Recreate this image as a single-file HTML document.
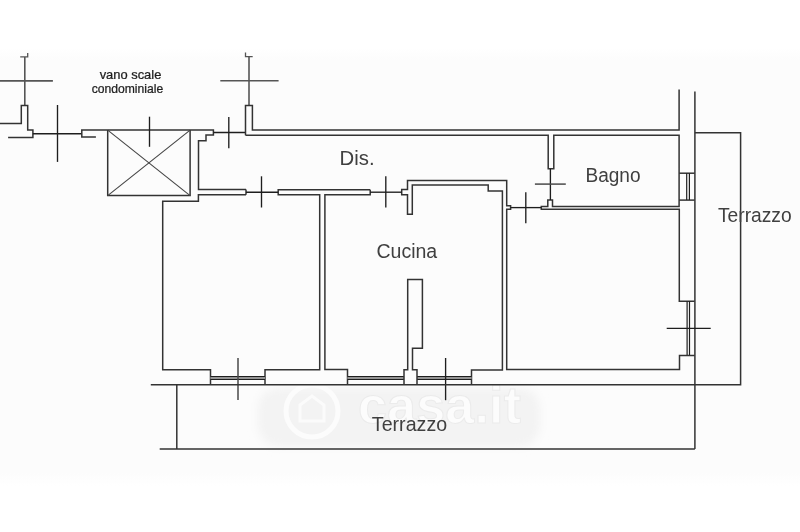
<!DOCTYPE html><html><head><meta charset="utf-8"><style>html,body{margin:0;padding:0;background:#fff;width:800px;height:532px;overflow:hidden}svg{display:block;filter:grayscale(1)}text{font-family:"Liberation Sans",sans-serif;fill:#404040}</style></head><body>
<svg width="800" height="532" viewBox="0 0 800 532">
<rect width="800" height="532" fill="#fff"/>
<defs><linearGradient id="bg" x1="0" y1="0" x2="0" y2="1"><stop offset="0" stop-color="#fff"/><stop offset="0.03" stop-color="#fcfcfc"/><stop offset="0.97" stop-color="#fcfcfc"/><stop offset="1" stop-color="#fff"/></linearGradient></defs>
<rect x="0" y="48" width="800" height="438" fill="url(#bg)"/>
<defs><filter id="bl" x="-20%" y="-40%" width="140%" height="180%"><feGaussianBlur stdDeviation="5"/></filter></defs>
<rect x="258" y="388" width="282" height="58" rx="20" fill="#f3f3f3" filter="url(#bl)"/>
<circle cx="312" cy="411" r="26" fill="none" stroke="#fcfcfc" stroke-width="5"/>
<path d="M300,405 L312,396 L324,405 L324,421 L300,421 Z" fill="none" stroke="#fbfbfb" stroke-width="3"/>
<text x="358" y="422.5" font-size="52" font-weight="bold" textLength="163" lengthAdjust="spacing" style="fill:#fcfcfc;stroke:#ebebeb;stroke-width:1">casa.it</text>
<g fill="none" stroke-linecap="butt" stroke-linejoin="miter">
<path d="M24.8,57 L24.8,105.4" stroke="#555" stroke-width="1.6"/>
<path d="M20.2,56.8 L27.7,56.8 L27.7,53.1" stroke="#555" stroke-width="1.3"/>
<path d="M0,80.9 L52.9,80.9" stroke="#555" stroke-width="1.6"/>
<path d="M0,123.5 L21.3,123.5 L21.3,105.4 L27.7,105.4 L27.7,130 L32.9,130 L32.9,137.6 L8.1,137.6" stroke="#333" stroke-width="1.5"/>
<path d="M32.9,133.7 L81.8,133.7" stroke="#1e1e1e" stroke-width="1.35"/>
<path d="M57.5,105 L57.5,161.9" stroke="#1e1e1e" stroke-width="1.35"/>
<path d="M95.9,137.1 L81.8,137.1 L81.8,130.1 L213.4,130.1 L213.4,135.1 L206,135.1 L206,140.7 L198.5,140.7 L198.5,189.6 L246,189.6" stroke="#333" stroke-width="1.5"/>
<path d="M246,194.7 L198.4,194.7 L198.4,201.2 L162.7,201.2 L162.7,369.7 L210.5,369.7 L210.5,384.5" stroke="#333" stroke-width="1.5"/>
<path d="M246,189.6 L246,194.7" stroke="#333" stroke-width="1.5"/>
<path d="M107.7,130.1 L107.7,195.6 L190.1,195.6 L190.1,130.1" stroke="#333" stroke-width="1.5"/>
<path d="M107.7,130.1 L190.1,195.6" stroke="#444" stroke-width="1.1"/>
<path d="M190.1,130.1 L107.7,195.6" stroke="#444" stroke-width="1.1"/>
<path d="M149.5,116.7 L149.5,146.8" stroke="#1e1e1e" stroke-width="1.35"/>
<path d="M213.4,132.5 L245.5,132.5" stroke="#1e1e1e" stroke-width="1.35"/>
<path d="M228.8,117 L228.8,148.2" stroke="#1e1e1e" stroke-width="1.35"/>
<path d="M249,57 L249,105.5" stroke="#555" stroke-width="1.6"/>
<path d="M245.5,52.5 L245.5,56.7 L252.7,56.7" stroke="#555" stroke-width="1.3"/>
<path d="M220.3,80.8 L278.6,80.8" stroke="#555" stroke-width="1.6"/>
<path d="M245.5,135.2 L245.5,105.5 L252.4,105.5 L252.4,130 L679.1,130 L679.1,89.5" stroke="#333" stroke-width="1.5"/>
<path d="M245.5,135.2 L548.2,135.2 L548.2,168.8 L553.8,168.8 L553.8,135.2 L679.1,135.2 L679.1,200.1" stroke="#333" stroke-width="1.5"/>
<path d="M679.1,173.2 L694.7,173.2" stroke="#333" stroke-width="1.5"/>
<path d="M679.1,200.1 L694.7,200.1" stroke="#333" stroke-width="1.5"/>
<path d="M686.7,173.2 L686.7,200.1" stroke="#1e1e1e" stroke-width="1.2"/>
<path d="M689.4,173.2 L689.4,200.1" stroke="#1e1e1e" stroke-width="1.2"/>
<path d="M679.1,200.1 L679.1,206.4 L552.5,206.4 L552.5,200 L547.8,200 L547.8,206.4 L541.3,206.4 L541.3,209.3 L679.3,209.3 L679.3,301.2 L694.7,301.2" stroke="#333" stroke-width="1.5"/>
<path d="M687.1,301.2 L687.1,355.4" stroke="#1e1e1e" stroke-width="1.2"/>
<path d="M689.5,301.2 L689.5,355.4" stroke="#1e1e1e" stroke-width="1.2"/>
<path d="M694.7,355.4 L679.5,355.4 L679.5,369.6 L506.7,369.6 L506.7,209.3 L510.6,209.3 L510.6,205.8 L506.7,205.8 L506.7,180.5 L407.5,180.5 L407.5,189.6 L401.7,189.6 L401.7,194.8 L407.5,194.8 L407.5,214.2 L412.3,214.2 L412.3,185 L488.2,185 L488.2,191 L502.4,191 L502.4,370 L471.5,370 L471.5,384.5" stroke="#333" stroke-width="1.5"/>
<path d="M510.6,207.6 L541.3,207.6" stroke="#1e1e1e" stroke-width="1.35"/>
<path d="M525.8,192.2 L525.8,223.3" stroke="#1e1e1e" stroke-width="1.35"/>
<path d="M550.4,168.8 L550.4,200" stroke="#1e1e1e" stroke-width="1.35"/>
<path d="M534.9,184.1 L565.8,184.1" stroke="#4a4a4a" stroke-width="1.5"/>
<path d="M370.2,189.7 L278.2,189.7 L278.2,194.8 L319.7,194.8 L319.7,369.7 L265,369.7 L265,384.5" stroke="#333" stroke-width="1.5"/>
<path d="M370.2,189.7 L370.2,194.8 L324.9,194.8 L324.9,369.5 L347.5,369.5 L347.5,384.5" stroke="#333" stroke-width="1.5"/>
<path d="M370.2,192.2 L401.7,192.2" stroke="#1e1e1e" stroke-width="1.35"/>
<path d="M385.8,176.3 L385.8,207.5" stroke="#1e1e1e" stroke-width="1.35"/>
<path d="M246,192.2 L278.2,192.2" stroke="#1e1e1e" stroke-width="1.35"/>
<path d="M261.5,176.3 L261.5,207.5" stroke="#1e1e1e" stroke-width="1.35"/>
<path d="M210.5,378.0 L265,378.0" stroke="#bbb" stroke-width="2.6000000000000227"/>
<path d="M210.5,376.7 L265,376.7" stroke="#1e1e1e" stroke-width="1.2"/>
<path d="M210.5,379.3 L265,379.3" stroke="#1e1e1e" stroke-width="1.2"/>
<path d="M347.5,378.0 L404,378.0" stroke="#bbb" stroke-width="2.6000000000000227"/>
<path d="M347.5,376.7 L404,376.7" stroke="#1e1e1e" stroke-width="1.2"/>
<path d="M347.5,379.3 L404,379.3" stroke="#1e1e1e" stroke-width="1.2"/>
<path d="M417,378.0 L471.5,378.0" stroke="#bbb" stroke-width="2.6000000000000227"/>
<path d="M417,376.7 L471.5,376.7" stroke="#1e1e1e" stroke-width="1.2"/>
<path d="M417,379.3 L471.5,379.3" stroke="#1e1e1e" stroke-width="1.2"/>
<path d="M404,384.5 L404,369.7 L407.7,369.7 L407.7,279.6 L422.4,279.6 L422.4,348.3 L412.5,348.3 L412.5,369.7 L417,369.7 L417,384.5" stroke="#333" stroke-width="1.5"/>
<path d="M238,358 L238,400" stroke="#4a4a4a" stroke-width="1.5"/>
<path d="M445.6,358 L445.6,400.2" stroke="#1e1e1e" stroke-width="1.35"/>
<path d="M150.8,384.8 L740.6,384.8 L740.6,132.8 L694.9,132.8" stroke="#333" stroke-width="1.5"/>
<path d="M694.9,91.6 L694.9,449.1" stroke="#333" stroke-width="1.5"/>
<path d="M159.7,449.1 L694.9,449.1" stroke="#333" stroke-width="1.5"/>
<path d="M176.8,384.8 L176.8,449.1" stroke="#333" stroke-width="1.5"/>
<path d="M666.7,328.3 L710.7,328.3" stroke="#1e1e1e" stroke-width="1.35"/>
</g>
<text transform="translate(99.67,78.6) scale(1.0571,1)" font-size="12.2" style="fill:#1e1e1e;stroke:#1e1e1e;stroke-width:0.25">vano scale</text>
<text transform="translate(91.71,92.7) scale(0.996,1)" font-size="12.2" style="fill:#1e1e1e;stroke:#1e1e1e;stroke-width:0.25">condominiale</text>
<text transform="translate(339.62,164.5) scale(1.0422,1)" font-size="19.5">Dis.</text>
<text transform="translate(585.48,182.0) scale(0.9775,1)" font-size="19.5">Bagno</text>
<text transform="translate(376.42,257.7) scale(1.0022,1)" font-size="19.5">Cucina</text>
<text transform="translate(717.92,221.5) scale(0.9862,1)" font-size="19.5">Terrazzo</text>
<text transform="translate(371.81,431.0) scale(1.008,1)" font-size="19.5">Terrazzo</text>
</svg></body></html>
